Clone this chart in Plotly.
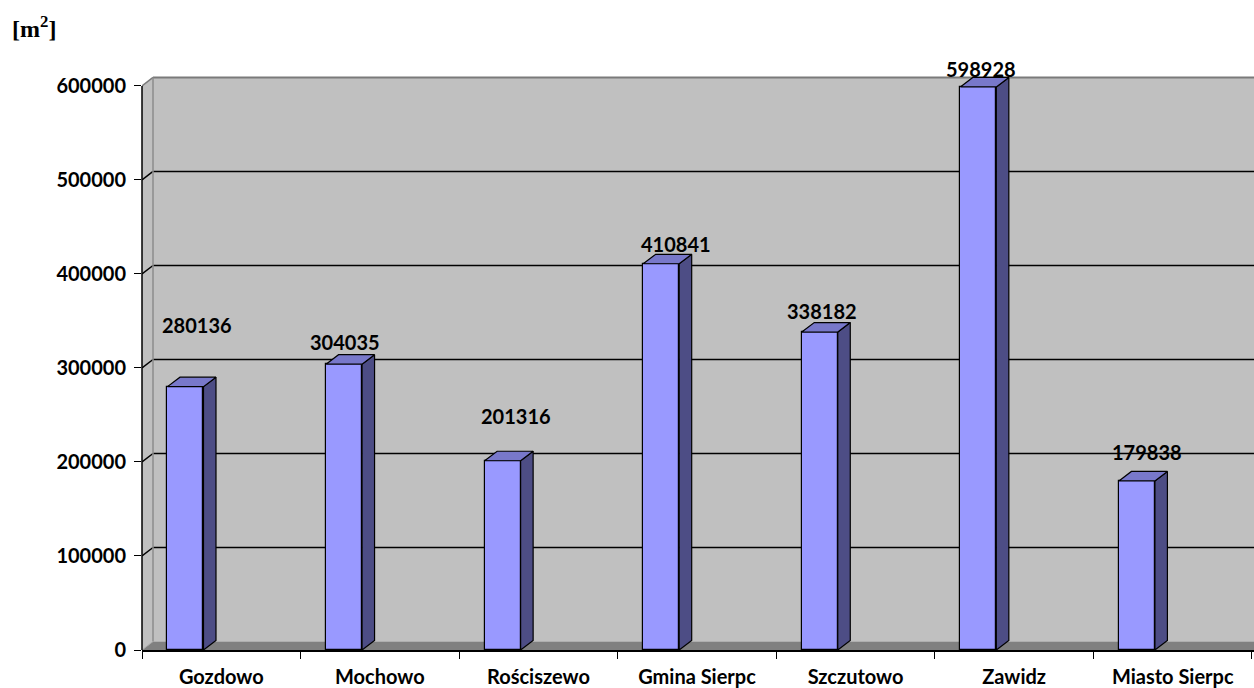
import plotly.graph_objects as go

# ---------------- data ----------------
categories = ["Gozdowo", "Mochowo", "Rościszewo", "Gmina Sierpc", "Szczutowo", "Zawidz", "Miasto Sierpc"]
values = [280136, 304035, 201316, 410841, 338182, 598928, 179838]
y_ticks = [0, 100000, 200000, 300000, 400000, 500000, 600000]
unit_label = "[m<sup>2</sup>]"

# label placement offsets (pixels) relative to category centre / bar value
label_dx = [-24, -35, -22, -21, -34, -33, -26]
label_dy = [62, 22, 45, 20, 21, 18, 29]

# ---------------- geometry ----------------
W, H = 1254, 688
ML, MR, MT, MB = 142, 0, 60, 36
PW = W - ML - MR
PH = H - MT - MB
PX_PER_CAT = 158.57
PX_PER_Y = 566 / 600000.0
XMAX = PW / PX_PER_CAT
YMAX = PH / PX_PER_Y


def xu(px):
    return px / PX_PER_CAT


def yu(px):
    return px / PX_PER_Y


n = len(categories)
xc = [i + 0.5 for i in range(n)]
BAR_OFF = xu(-53.8)
BAR_W = xu(36)
BDX, BDY = xu(12.5), yu(9.5)     # bar depth
WDX, WDY = xu(11), yu(8.5)       # wall depth
YTOP = y_ticks[-1]

FRONT = "#9999FF"
TOP = "#7878CA"
SIDE = "#4D4D85"
WALL = "#C0C0C0"
FLOOR = "#808080"
FONT = dict(family="Lato", size=20, color="black", weight="bold")

fig = go.Figure()

# front faces
fig.add_trace(go.Bar(
    x=xc, y=values, width=BAR_W, offset=BAR_OFF,
    marker=dict(color=FRONT, line=dict(color="black", width=1.2)),
    hoverinfo="skip", showlegend=False,
))

# side and top faces
sx, sy = [], []
tx, ty = [], []
for x, v in zip(xc, values):
    xl = x + BAR_OFF
    xr = xl + BAR_W
    sx += [xr, xr, xr + BDX, xr + BDX, xr, None]
    sy += [0, v, v + BDY, BDY, 0, None]
    tx += [xl, xr, xr + BDX, xl + BDX, xl, None]
    ty += [v, v, v + BDY, v + BDY, v, None]

fig.add_trace(go.Scatter(x=sx, y=sy, mode="lines", fill="toself", fillcolor=SIDE,
                         line=dict(color="black", width=1.2), hoverinfo="skip", showlegend=False))
fig.add_trace(go.Scatter(x=tx, y=ty, mode="lines", fill="toself", fillcolor=TOP,
                         line=dict(color="black", width=1.2), hoverinfo="skip", showlegend=False))

shapes = []
# left side wall
shapes.append(dict(type="path", xref="x", yref="y", layer="below",
                   path=f"M 0,0 L 0,{YTOP} L {WDX},{YTOP + WDY} L {WDX},{WDY} Z",
                   fillcolor=WALL, line=dict(width=0)))
# back wall
shapes.append(dict(type="rect", xref="x", yref="y", layer="below",
                   x0=WDX, x1=XMAX, y0=WDY, y1=YTOP + WDY,
                   fillcolor=WALL, line=dict(width=0)))
# floor
shapes.append(dict(type="path", xref="x", yref="y", layer="below",
                   path=f"M 0,0 L {WDX},{WDY} L {XMAX},{WDY} L {XMAX},0 Z",
                   fillcolor=FLOOR, line=dict(width=0)))
# gridlines on wall
for v in y_ticks[1:-1]:
    shapes.append(dict(type="line", xref="x", yref="y", layer="below",
                       x0=WDX, x1=XMAX, y0=v + WDY, y1=v + WDY,
                       line=dict(color="black", width=1.5)))
    shapes.append(dict(type="line", xref="x", yref="y", layer="below",
                       x0=0, x1=WDX, y0=v, y1=v + WDY,
                       line=dict(color="black", width=1.5)))
# wall borders
shapes.append(dict(type="line", xref="x", yref="y", layer="below",
                   x0=WDX, x1=XMAX, y0=YTOP + WDY, y1=YTOP + WDY,
                   line=dict(color="#7a7a7a", width=2)))
shapes.append(dict(type="line", xref="x", yref="y", layer="below",
                   x0=0, x1=WDX, y0=YTOP, y1=YTOP + WDY,
                   line=dict(color="#7a7a7a", width=1.5)))
shapes.append(dict(type="line", xref="x", yref="y", layer="below",
                   x0=WDX, x1=WDX, y0=WDY, y1=YTOP + WDY,
                   line=dict(color="#8c8c8c", width=1.5)))
shapes.append(dict(type="line", xref="x", yref="y", layer="below",
                   x0=0, x1=WDX, y0=0, y1=WDY,
                   line=dict(color="#a8a8a8", width=1)))
# front vertical axis line
shapes.append(dict(type="line", xref="paper", yref="y", layer="above",
                   x0=0, x1=0, y0=0, y1=YTOP,
                   line=dict(color="black", width=1.5)))

annotations = []
for x, v, dx, dy in zip(xc, values, label_dx, label_dy):
    annotations.append(dict(x=x, y=v, xref="x", yref="y", text=str(v), showarrow=False,
                            xshift=dx, yshift=dy, font=FONT, xanchor="center", yanchor="middle"))
annotations.append(dict(x=0, y=1, xref="paper", yref="paper", text=unit_label, showarrow=False,
                        xanchor="left", yanchor="middle", xshift=10 - ML, yshift=MT - 27,
                        font=dict(family="Liberation Serif", size=24, color="black", weight="bold")))

fig.update_layout(
    width=W, height=H,
    margin=dict(l=ML, r=MR, t=MT, b=MB, pad=0),
    paper_bgcolor="white", plot_bgcolor="white",
    shapes=shapes, annotations=annotations,
    showlegend=False, bargap=0,
    xaxis=dict(range=[0, XMAX], tickvals=xc, ticktext=categories, ticks="",
               showgrid=False, zeroline=False, showline=True, linecolor="black", linewidth=1.5,
               tickfont=FONT, ticklabelstandoff=8,
               minor=dict(tickvals=list(range(n + 1)), ticks="outside", ticklen=7,
                          tickcolor="black", tickwidth=1.2, showgrid=False)),
    yaxis=dict(range=[0, YMAX], tickvals=y_ticks, ticktext=[str(t) for t in y_ticks],
               ticks="outside", ticklen=7, tickcolor="black", tickwidth=1.2,
               showgrid=False, zeroline=False, showline=False,
               tickfont=FONT, ticklabelstandoff=4),
)

fig.write_html("out.html", config={"displayModeBar": False},
               post_script="document.body.style.margin='0';document.body.style.overflow='hidden';")
